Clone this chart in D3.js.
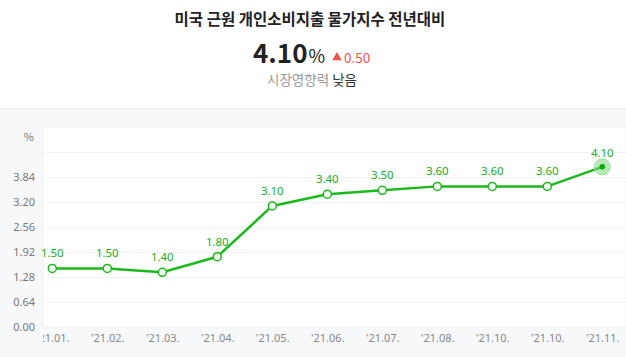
<!DOCTYPE html>
<html><head><meta charset="utf-8">
<script src="https://cdn.jsdelivr.net/npm/d3@7"></script>
<style>
html,body{margin:0;padding:0;background:#fff;}
svg{display:block;font-family:"Noto Sans CJK KR","Noto Sans",sans-serif;}
</style></head>
<body><svg id="c" width="626" height="357"></svg>
<script>
const categories = ["'21.01.","'21.02.","'21.03.","'21.04.","'21.05.","'21.06.","'21.07.","'21.08.","'21.10.","'21.10.","'21.11."];
const values = [1.50,1.50,1.40,1.80,3.10,3.40,3.50,3.60,3.60,3.60,4.10];
const yTicks = [0,0.64,1.28,1.92,2.56,3.20,3.84,4.48,5.12];
const yLabelTicks = [0,0.64,1.28,1.92,2.56,3.20,3.84];
const titleText = "미국 근원 개인소비지출 물가지수 전년대비";
const currentValue = "4.10";
const changeValue = "0.50";

const svg = d3.select("#c");
const W = 626, H = 357;
const plot = {left:43, right:626, top:127, bottom:327};

// background band
svg.append("rect").attr("x",0).attr("y",108).attr("width",W).attr("height",H-108).attr("fill","#f7f8fa");
svg.append("line").attr("x1",0).attr("x2",W).attr("y1",108.5).attr("y2",108.5).attr("stroke","#eeeff1");

// title
svg.append("text").attr("x",310).attr("y",25).attr("text-anchor","middle")
  .attr("font-size",15.5).attr("font-weight","bold").attr("fill","#222").text(titleText);

// big value
const big = svg.append("text").attr("x",253).attr("y",63).attr("fill","#222");
big.append("tspan").attr("font-size",26).attr("font-weight","bold").text(currentValue);
big.append("tspan").attr("font-size",18).attr("dx",1).text("%");
svg.append("path").attr("d",d3.symbol(d3.symbolTriangle,38)()).attr("transform","translate(337,57.5)").attr("fill","#f4534d");
svg.append("text").attr("x",344).attr("y",63).attr("font-size",13.5).attr("fill","#f4534d").text(changeValue);

const sub = svg.append("text").attr("x",312).attr("y",85).attr("text-anchor","middle").attr("font-size",13.5);
sub.append("tspan").attr("fill","#999").text("시장영향력 ");
sub.append("tspan").attr("fill","#333").text("낮음");

// plot area
svg.append("rect").attr("x",plot.left).attr("y",plot.top).attr("width",plot.right-plot.left).attr("height",plot.bottom-plot.top)
  .attr("fill","#fff").attr("stroke","#eceef1");

const x = d3.scalePoint().domain(d3.range(categories.length)).range([52.3, 602.3]);
const y = d3.scaleLinear().domain([0,5.12]).range([plot.bottom, plot.top]);

// grid
svg.append("g").selectAll("line").data(yTicks.slice(1,-1)).join("line")
  .attr("x1",plot.left).attr("x2",plot.right)
  .attr("y1",d=>Math.round(y(d))+0.5).attr("y2",d=>Math.round(y(d))+0.5)
  .attr("stroke","#f1f2f4");

// y axis labels
const yAxis = d3.axisLeft(y).tickValues(yLabelTicks).tickFormat(d3.format(".2f")).tickSize(0).tickPadding(0);
const ya = svg.append("g").attr("transform","translate(35,0)").call(yAxis);
ya.select(".domain").remove();
ya.selectAll("text").attr("font-size",11).attr("fill","#777").attr("font-family","'Noto Sans','DejaVu Sans',sans-serif");
svg.append("text").attr("x",34).attr("y",141).attr("text-anchor","end").attr("font-size",11).attr("fill","#777").text("%");

// x axis labels with clip
svg.append("clipPath").attr("id","xclip").append("rect").attr("x",plot.left).attr("y",plot.bottom).attr("width",plot.right-plot.left).attr("height",H-plot.bottom);
const xAxis = d3.axisBottom(x).tickFormat(i=>categories[i]).tickSize(0).tickPadding(0);
const xa = svg.append("g").attr("clip-path","url(#xclip)").append("g").attr("transform","translate(0,332)").call(xAxis);
xa.select(".domain").remove();
xa.selectAll("text").attr("font-size",11).attr("fill","#888").attr("dy","0.71em").attr("y",2).attr("font-family","'Noto Sans','DejaVu Sans',sans-serif");

// line
const green = "#1cb91c";
const line = d3.line().x((d,i)=>x(i)).y(d=>y(d));
svg.append("path").datum(values).attr("d",line).attr("fill","none").attr("stroke",green).attr("stroke-width",2.5).attr("stroke-linejoin","round");

// points
const last = values.length-1;
svg.append("g").selectAll("circle").data(values.slice(0,last)).join("circle")
  .attr("cx",(d,i)=>x(i)).attr("cy",d=>y(d)).attr("r",4).attr("fill","#fff").attr("stroke",green).attr("stroke-width",1.5);
svg.append("circle").attr("cx",x(last)).attr("cy",y(values[last])).attr("r",8).attr("fill","#6fd66f").attr("fill-opacity",0.5).attr("stroke","#9ae29a").attr("stroke-width",1);
svg.append("circle").attr("cx",x(last)).attr("cy",y(values[last])).attr("r",2.8).attr("fill","#0fa80f");

// value labels
svg.append("g").selectAll("text").data(values).join("text")
  .attr("x",(d,i)=>x(i)).attr("y",(d,i)=>y(d)-(i===last?10:11)).attr("text-anchor","middle")
  .attr("font-size",11.5).attr("fill","#1cac1c").attr("font-family","'Noto Sans','DejaVu Sans',sans-serif")
  .text(d=>d3.format(".2f")(d));
</script></body></html>
